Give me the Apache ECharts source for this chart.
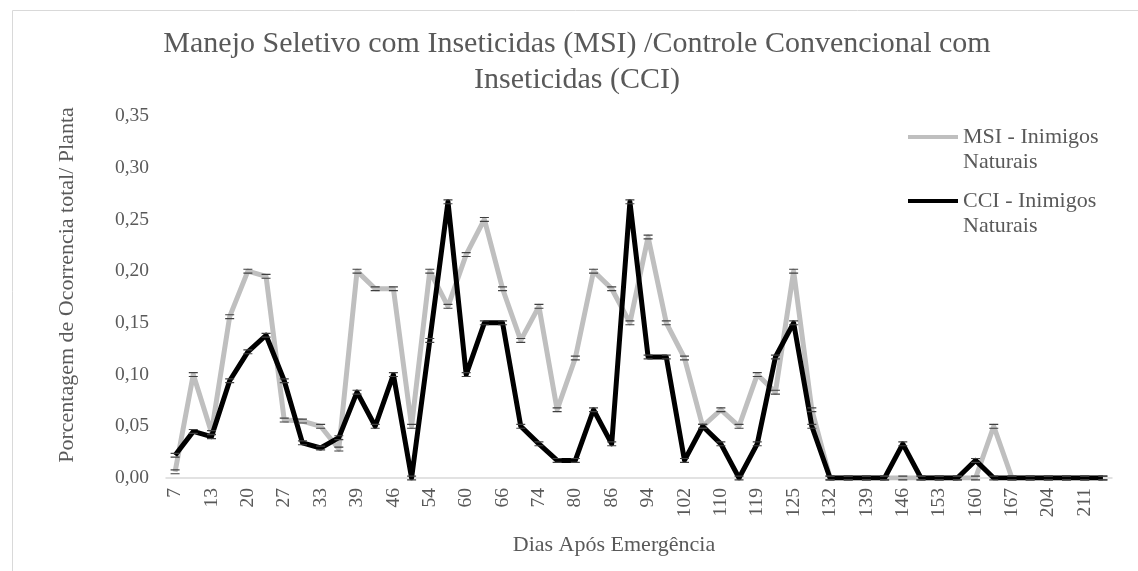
<!DOCTYPE html>
<html lang="pt">
<head>
    <meta charset="UTF-8">
    <title>index</title>
    <script src="https://cdn.jsdelivr.net/npm/echarts@6.0.0/dist/echarts.min.js"></script>
    <style>
        html, body { margin: 0; padding: 0; background: #fff; }
        #chart { width: 1138px; height: 571px; }
    </style>
</head>
<body>
<div id="chart"></div>
<script>
    // dias apos emergencia (so os pares aparecem no eixo)
    var dias = ['7', '10', '13', '17', '20', '24', '27', '30', '33', '36',
        '39', '43', '46', '50', '54', '57', '60', '63', '66', '70',
        '74', '77', '80', '83', '86', '90', '94', '98', '102', '106',
        '110', '114', '119', '122', '125', '129', '132', '136', '139', '143',
        '146', '150', '153', '157', '160', '164', '167', '174', '204', '208',
        '211', '218'];

    var msi = [0.006, 0.100, 0.044, 0.156, 0.200, 0.195, 0.056, 0.055, 0.050, 0.028,
        0.200, 0.183, 0.183, 0.050, 0.200, 0.166, 0.216, 0.250, 0.183, 0.133,
        0.166, 0.066, 0.116, 0.200, 0.183, 0.150, 0.233, 0.150, 0.116, 0.050,
        0.066, 0.050, 0.100, 0.083, 0.200, 0.066, 0, 0, 0, 0,
        0, 0, 0, 0, 0, 0.050, 0, 0, 0, 0,
        0, 0];

    var cci = [0.022, 0.045, 0.040, 0.094, 0.122, 0.138, 0.094, 0.034, 0.029, 0.039,
        0.083, 0.050, 0.100, 0, 0.133, 0.267, 0.100, 0.150, 0.150, 0.050,
        0.033, 0.017, 0.017, 0.066, 0.033, 0.267, 0.117, 0.117, 0.017, 0.050,
        0.033, 0, 0.033, 0.117, 0.150, 0.050, 0, 0, 0, 0,
        0.033, 0, 0, 0, 0.017, 0, 0, 0, 0, 0,
        0, 0];

    var nomeMsi = 'MSI - Inimigos Naturais';
    var nomeCci = 'CCI - Inimigos Naturais';

    var fonte = "'Liberation Serif', 'Times New Roman', serif";
    var cinzaTexto = '#595959';
    // "=" pequeno nos pontos, como as barras de erro do original
    var simboloErro = 'path://M0,0H9V1.2H0Z M0,4H9V5.2H0Z';
    // linha da legenda alinhada com a primeira linha do texto
    var iconeLegenda = 'path://M0,0H50V4H0Z M0,28.95H0.05V29H0Z';

    var chart = echarts.init(document.getElementById('chart'));
    chart.setOption({
        animation: false,
        textStyle: { fontFamily: fonte },
        graphic: [{
            type: 'rect',
            left: 10, top: 8,
            shape: { width: 1200, height: 600 },
            style: { fill: 'none', stroke: '#d9d9d9', lineWidth: 1 },
            silent: true
        }],
        title: {
            text: 'Manejo Seletivo com Inseticidas (MSI) /Controle Convencional com\nInseticidas (CCI)',
            left: 577,
            textAlign: 'center',
            top: 26,
            padding: 0,
            textStyle: {
                fontFamily: fonte,
                fontSize: 30,
                fontWeight: 'normal',
                color: cinzaTexto,
                lineHeight: 36
            }
        },
        legend: {
            orient: 'vertical',
            left: 908,
            top: 124.5,
            padding: 0,
            itemWidth: 50,
            itemHeight: 29,
            itemGap: 14,
            selectedMode: false,
            formatter: function (name) {
                return name.replace(' Naturais', '\nNaturais');
            },
            textStyle: {
                fontFamily: fonte,
                fontSize: 22,
                lineHeight: 25,
                color: cinzaTexto
            },
            data: [
                { name: nomeMsi, icon: iconeLegenda, itemStyle: { color: '#bfbfbf' } },
                { name: nomeCci, icon: iconeLegenda, itemStyle: { color: '#000000' } }
            ]
        },
        grid: { left: 166, right: 26, top: 116, bottom: 93 },
        xAxis: {
            type: 'category',
            data: dias,
            boundaryGap: true,
            name: 'Dias Após Emergência',
            nameLocation: 'middle',
            nameGap: 56,
            nameTextStyle: {
                fontFamily: fonte,
                fontSize: 22,
                color: cinzaTexto,
                padding: [0, 50, 0, 0]
            },
            axisLine: { lineStyle: { color: '#d9d9d9', width: 1.5 } },
            axisTick: { show: false },
            axisLabel: {
                interval: 1,
                rotate: 90,
                margin: 10,
                fontFamily: fonte,
                fontSize: 19.5,
                color: cinzaTexto
            },
            splitLine: { show: false }
        },
        yAxis: {
            type: 'value',
            min: 0,
            max: 0.35,
            interval: 0.05,
            name: 'Porcentagem de Ocorrencia total/ Planta',
            nameLocation: 'middle',
            nameRotate: 90,
            nameGap: 88,
            nameTextStyle: {
                fontFamily: fonte,
                fontSize: 22,
                color: cinzaTexto,
                padding: [0, 0, 0, 24]
            },
            axisLine: { show: false },
            axisTick: { show: false },
            splitLine: { show: false },
            axisLabel: {
                margin: 17,
                fontFamily: fonte,
                fontSize: 19.5,
                color: cinzaTexto,
                formatter: function (v) {
                    return v.toFixed(2).replace('.', ',');
                }
            }
        },
        series: [
            {
                name: nomeMsi,
                type: 'line',
                data: msi,
                symbol: simboloErro,
                symbolSize: [9, 5],
                showAllSymbol: true,
                itemStyle: { color: '#404040' },
                lineStyle: { color: '#bfbfbf', width: 5, join: 'round' },
                emphasis: { disabled: true }
            },
            {
                name: nomeCci,
                type: 'line',
                data: cci,
                symbol: simboloErro,
                symbolSize: [9, 5],
                showAllSymbol: true,
                itemStyle: { color: '#404040' },
                lineStyle: { color: '#000000', width: 5, join: 'round' },
                emphasis: { disabled: true }
            }
        ]
    });
</script>
</body>
</html>
